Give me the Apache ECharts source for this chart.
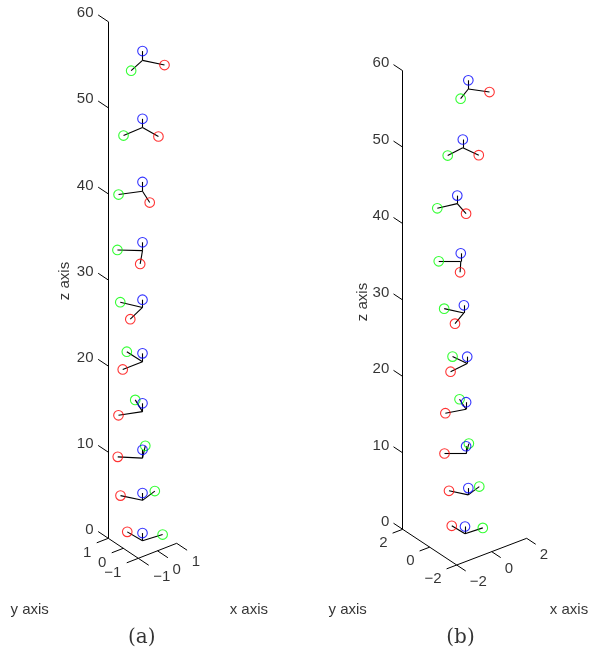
<!DOCTYPE html>
<html><head><meta charset="utf-8">
<script src="https://cdn.jsdelivr.net/npm/echarts@6/dist/echarts.min.js"></script>
<style>html,body{margin:0;padding:0;background:#fff}#chart{width:589px;height:657px}</style>
</head><body><div id="chart"></div>
<script>
// ---------- data ----------
const zTicks = [0, 10, 20, 30, 40, 50, 60];
const zTickLabels = ['0', '10', '20', '30', '40', '50', '60'];
const xTicksA = [-1, 0, 1];
const xTickLabelsA = ['\u22121', '0', '1'];
const yTicksA = [-1, 0, 1];
const yTickLabelsA = ['\u22121', '0', '1'];
const xTicksB = [-2, 0, 2];
const xTickLabelsB = ['\u22122', '0', '2'];
const yTicksB = [-2, 0, 2];
const yTickLabelsB = ['\u22122', '0', '2'];

// panel (a) frames: origin and axis tips (x axis = red, y axis = green, z axis = blue)
const frameZA = [0, 4.7, 9.6, 15.0, 20.8, 27.1, 33.7, 40.6, 48.0, 55.8];
const frameXA = [0, 0, 0, 0, 0, 0, 0, 0, 0, 0];
const frameYA = [0, 0, 0, 0, 0, 0, 0, 0, 0, 0];
const redXA = [-0.06, -0.49, -0.75, -0.97, -1.03, -0.98, -0.73, -0.32, 0.08, 0.49];
const redYA = [0.94, 0.84, 0.69, 0.36, 0.00, -0.44, -0.78, -0.89, -0.96, -0.84];
const greenXA = [0.97, 0.86, 0.70, 0.34, -0.02, -0.47, -0.79, -0.95, -1.02, -0.88];
const greenYA = [-0.10, 0.28, 0.71, 0.92, 1.02, 0.88, 0.66, 0.38, -0.04, -0.37];
const blueZA = [0.90, 0.85, 0.97, 0.97, 0.97, 0.90, 0.97, 1.08, 1.01, 1.08];

// panel (b) frames
const frameZB = [0, 5.1, 10.5, 16.3, 22.3, 28.9, 35.6, 43.2, 50.5, 58.2];
const frameXB = [0.01, 0.13, 0.05, 0.05, 0.09, -0.03, -0.14, -0.27, -0.07, 0.13];
const frameYB = [-0.01, -0.10, -0.04, -0.04, -0.07, 0.02, 0.11, 0.20, 0.05, -0.10];
const redXB = [-0.04, -0.48, -0.78, -0.97, -1.06, -0.91, -0.61, -0.23, 0.18, 0.60];
const redYB = [0.93, 0.81, 0.59, 0.28, -0.14, -0.52, -0.74, -0.95, -0.95, -0.79];
const greenXB = [0.97, 0.85, 0.65, 0.31, -0.16, -0.48, -0.78, -0.98, -0.97, -0.81];
const greenYB = [-0.06, 0.29, 0.64, 0.89, 0.88, 0.84, 0.62, 0.21, -0.14, -0.48];
const blueZB = [0.96, 0.88, 0.96, 0.92, 0.88, 1.00, 1.09, 1.05, 1.09, 1.14];

// ---------- layout (view projection per panel) ----------
const panels = [
  {
    O: [142.5, 540.8], ex: [19.2, -7.5], ey: [-15, -10], ez: [0, -8.61],
    xlim: [-1, 1], ylim: [-1, 1], zlim: [0, 60],
    xT: xTicksA, xL: xTickLabelsA, yT: yTicksA, yL: yTickLabelsA,
    tz: 12.2, ty: 12.4, tx: 12.5,
    zLab: [-14.8, -8.5], yLab: [-17, 15], xLab: [15, 19],
    zTitle: [65, 281], yTitle: [29.7, 610], xTitle: [248.8, 610], cap: [141.8, 638], capText: '(a)',
    f: { z: frameZA, x: frameXA, y: frameYA, rx: redXA, ry: redYA, gx: greenXA, gy: greenYA, bz: blueZA },
    sym: 9.6
  },
  {
    O: [464.7, 533.8], ex: [17.5, -6.675], ey: [-13.5, -8.925], ez: [0, -7.643],
    xlim: [-2, 2], ylim: [-2, 2], zlim: [0, 60],
    xT: xTicksB, xL: xTickLabelsB, yT: yTicksB, yL: yTickLabelsB,
    tz: 11, ty: 10.8, tx: 10.8,
    zLab: [-13.4, -7.5], yLab: [-15, 14], xLab: [13, 17],
    zTitle: [363.3, 302], yTitle: [347.7, 610], xTitle: [569, 610], cap: [460.5, 638], capText: '(b)',
    f: { z: frameZB, x: frameXB, y: frameYB, rx: redXB, ry: redYB, gx: greenXB, gy: greenYB, bz: blueZB },
    sym: 9.6
  }
];

function proj(p, x, y, z) {
  return [p.O[0] + p.ex[0] * x + p.ey[0] * y + p.ez[0] * z,
          p.O[1] + p.ex[1] * x + p.ey[1] * y + p.ez[1] * z];
}
function unit(v) { const l = Math.hypot(v[0], v[1]); return [v[0] / l, v[1] / l]; }
function add(a, d, s) { return [a[0] + d[0] * s, a[1] + d[1] * s]; }

const axisSegs = [], triadSegs = [], red = [], green = [], blue = [], texts = [];
const font = { fontFamily: 'Liberation Sans, Arial, sans-serif', fontSize: 15, color: '#000000' };

panels.forEach(p => {
  const [x0, x1] = p.xlim, [y0, y1] = p.ylim, [z0, z1] = p.zlim;
  const uy = unit(p.ey), ux = unit(p.ex);
  // axis lines
  axisSegs.push({ coords: [proj(p, x0, y1, z0), proj(p, x0, y1, z1)] });
  axisSegs.push({ coords: [proj(p, x0, y0, z0), proj(p, x0, y1, z0)] });
  axisSegs.push({ coords: [proj(p, x0, y0, z0), proj(p, x1, y0, z0)] });
  // z ticks (point along +y)
  zTicks.forEach((t, i) => {
    const b = proj(p, x0, y1, t);
    axisSegs.push({ coords: [b, add(b, uy, p.tz)] });
    texts.push({ value: [b[0] + p.zLab[0], b[1] + p.zLab[1]], label: { formatter: zTickLabels[i], align: 'right' } });
  });
  // y ticks (point along -x)
  p.yT.forEach((t, i) => {
    const b = proj(p, x0, t, z0);
    axisSegs.push({ coords: [b, add(b, ux, -p.ty)] });
    texts.push({ value: [b[0] + p.yLab[0], b[1] + p.yLab[1]], label: { formatter: p.yL[i], align: 'right' } });
  });
  // x ticks (point along -y)
  p.xT.forEach((t, i) => {
    const b = proj(p, t, y0, z0);
    axisSegs.push({ coords: [b, add(b, uy, -p.tx)] });
    texts.push({ value: [b[0] + p.xLab[0], b[1] + p.xLab[1]], label: { formatter: p.xL[i], align: 'left' } });
  });
  // titles
  texts.push({ value: p.zTitle, label: { formatter: 'z axis', align: 'center', rotate: 90 } });
  texts.push({ value: p.yTitle, label: { formatter: 'y axis', align: 'center' } });
  texts.push({ value: p.xTitle, label: { formatter: 'x axis', align: 'center' } });
  texts.push({ value: p.cap, label: { formatter: p.capText, align: 'center', fontFamily: 'DejaVu Serif, serif', fontSize: 20 } });
  // frames
  const f = p.f;
  f.z.forEach((z, i) => {
    const o = proj(p, f.x[i], f.y[i], z);
    const r = proj(p, f.x[i] + f.rx[i], f.y[i] + f.ry[i], z);
    const g = proj(p, f.x[i] + f.gx[i], f.y[i] + f.gy[i], z);
    const bl = proj(p, f.x[i], f.y[i], z + f.bz[i]);
    triadSegs.push({ coords: [o, r] }, { coords: [o, g] }, { coords: [o, bl] });
    red.push({ value: r, symbolSize: p.sym });
    green.push({ value: g, symbolSize: p.sym });
    blue.push({ value: bl, symbolSize: p.sym });
  });
});

const circle = (data, color) => ({
  type: 'scatter', data, symbol: 'circle', silent: true, z: 5,
  itemStyle: { color: 'rgba(0,0,0,0)', borderColor: color, borderWidth: 1.1 }
});

const chart = echarts.init(document.getElementById('chart'), null, { renderer: 'canvas' });
chart.setOption({
  animation: false,
  backgroundColor: '#ffffff',
  grid: { left: 0, right: 0, top: 0, bottom: 0 },
  xAxis: { type: 'value', min: 0, max: 589, show: false },
  yAxis: { type: 'value', min: 0, max: 657, inverse: true, show: false },
  series: [
    { type: 'lines', coordinateSystem: 'cartesian2d', data: axisSegs, silent: true, z: 2,
      lineStyle: { color: '#000000', width: 1, opacity: 1 } },
    { type: 'lines', coordinateSystem: 'cartesian2d', data: triadSegs, silent: true, z: 3,
      lineStyle: { color: '#000000', width: 1.1, opacity: 1 } },
    circle(red, '#ff0000'),
    circle(green, '#00ff00'),
    circle(blue, '#0000ff'),
    { type: 'scatter', data: texts, symbolSize: 0, silent: true, z: 6,
      label: Object.assign({ show: true, position: 'inside', verticalAlign: 'middle' }, font) }
  ]
});
</script>
</body></html>
